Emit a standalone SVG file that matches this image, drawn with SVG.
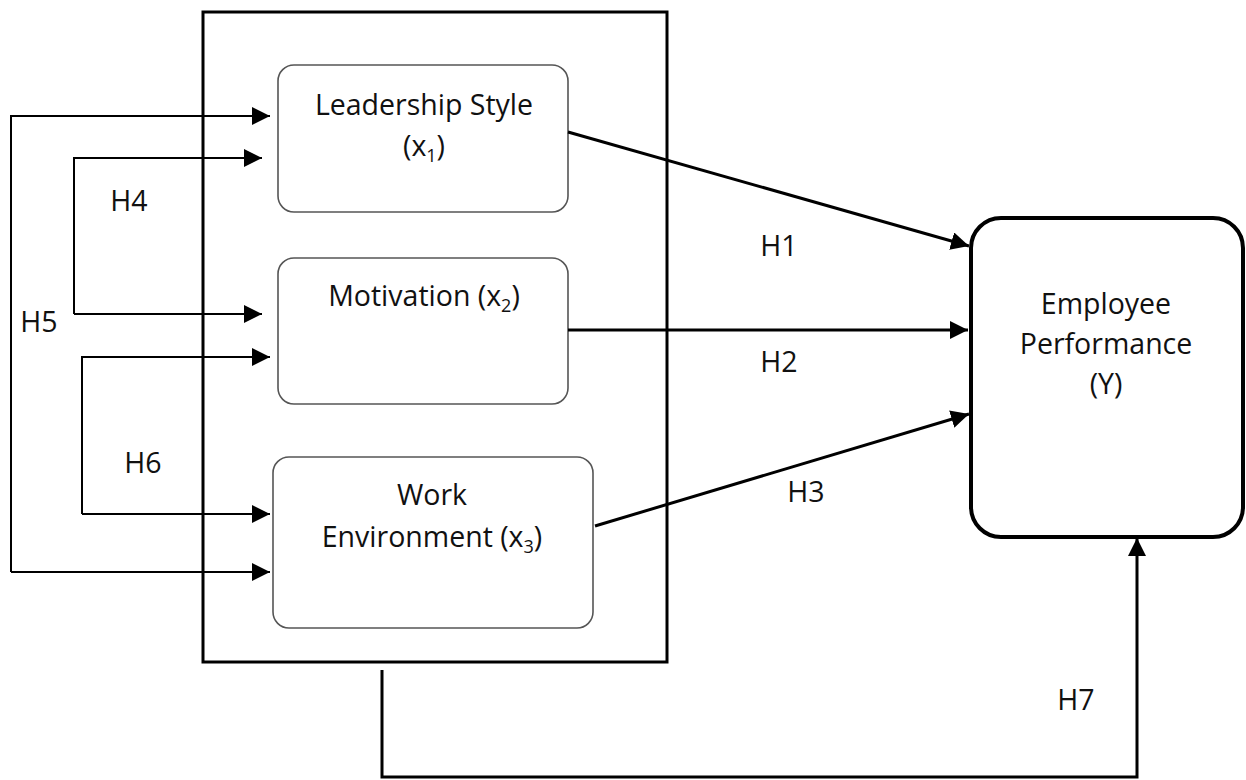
<svg xmlns="http://www.w3.org/2000/svg" width="1246" height="780" viewBox="0 0 1246 780">
<style>
text{font-family:"Open Sans","Liberation Sans",sans-serif;font-size:28.5px;fill:#111;text-anchor:middle}
.sub{font-size:18px}
.box{fill:#fff;stroke:#555;stroke-width:1.6}
.c{fill:none;stroke:#000;stroke-width:2}
.c3{fill:none;stroke:#000;stroke-width:3}
</style>
<defs>
<marker id="ahL" viewBox="0 0 10 10" refX="10" refY="5" markerWidth="18" markerHeight="18" markerUnits="userSpaceOnUse" orient="auto">
<path d="M0,0 L10,5 L0,10 z" fill="#000"/>
</marker>
</defs>
<g id="frame"><rect x="203" y="12" width="464" height="650" fill="none" stroke="#000" stroke-width="3"/></g>
<g id="n_leadership"><rect class="box" x="278" y="65" width="290" height="147" rx="16"/>
<text x="424" y="115">Leadership Style</text>
<text x="424" y="156">(x<tspan class="sub" dy="6">1</tspan><tspan dy="-6">)</tspan></text></g>
<g id="n_motivation"><rect class="box" x="278" y="258" width="290" height="146" rx="16"/>
<text x="424" y="306">Motivation (x<tspan class="sub" dy="6">2</tspan><tspan dy="-6">)</tspan></text></g>
<g id="n_workenv"><rect class="box" x="273" y="457" width="320" height="171" rx="16"/>
<text x="432" y="505">Work</text>
<text x="432" y="547">Environment (x<tspan class="sub" dy="6">3</tspan><tspan dy="-6">)</tspan></text></g>
<g id="n_performance"><rect x="971" y="218" width="272" height="319" rx="30" fill="#fff" stroke="#000" stroke-width="4"/>
<text x="1106" y="314">Employee</text>
<text x="1106" y="354">Performance</text>
<text x="1106" y="394">(Y)</text></g>
<g id="connectors">
<polyline class="c" points="11,572 11,116 270,116" marker-end="url(#ahL)"/>
<line class="c" x1="11" y1="572" x2="270" y2="572" marker-end="url(#ahL)"/>
<polyline class="c" points="74,314 74,158 262,158" marker-end="url(#ahL)"/>
<line class="c" x1="74" y1="314" x2="262" y2="314" marker-end="url(#ahL)"/>
<polyline class="c" points="82,514 82,357 270,357" marker-end="url(#ahL)"/>
<line class="c" x1="82" y1="514" x2="270" y2="514" marker-end="url(#ahL)"/>
<line class="c3" x1="568" y1="132" x2="969" y2="246" marker-end="url(#ahL)"/>
<line class="c3" x1="568" y1="330" x2="968" y2="330" marker-end="url(#ahL)"/>
<line class="c3" x1="595" y1="526" x2="969" y2="414" marker-end="url(#ahL)"/>
<polyline class="c3" points="382,670 382,777 1137,777 1137,538" marker-end="url(#ahL)"/>
<text x="779" y="256">H1</text>
<text x="779" y="372">H2</text>
<text x="806" y="502">H3</text>
<text x="129" y="211">H4</text>
<text x="39" y="332">H5</text>
<text x="143" y="473">H6</text>
<text x="1076" y="710">H7</text>
</g>
</svg>
